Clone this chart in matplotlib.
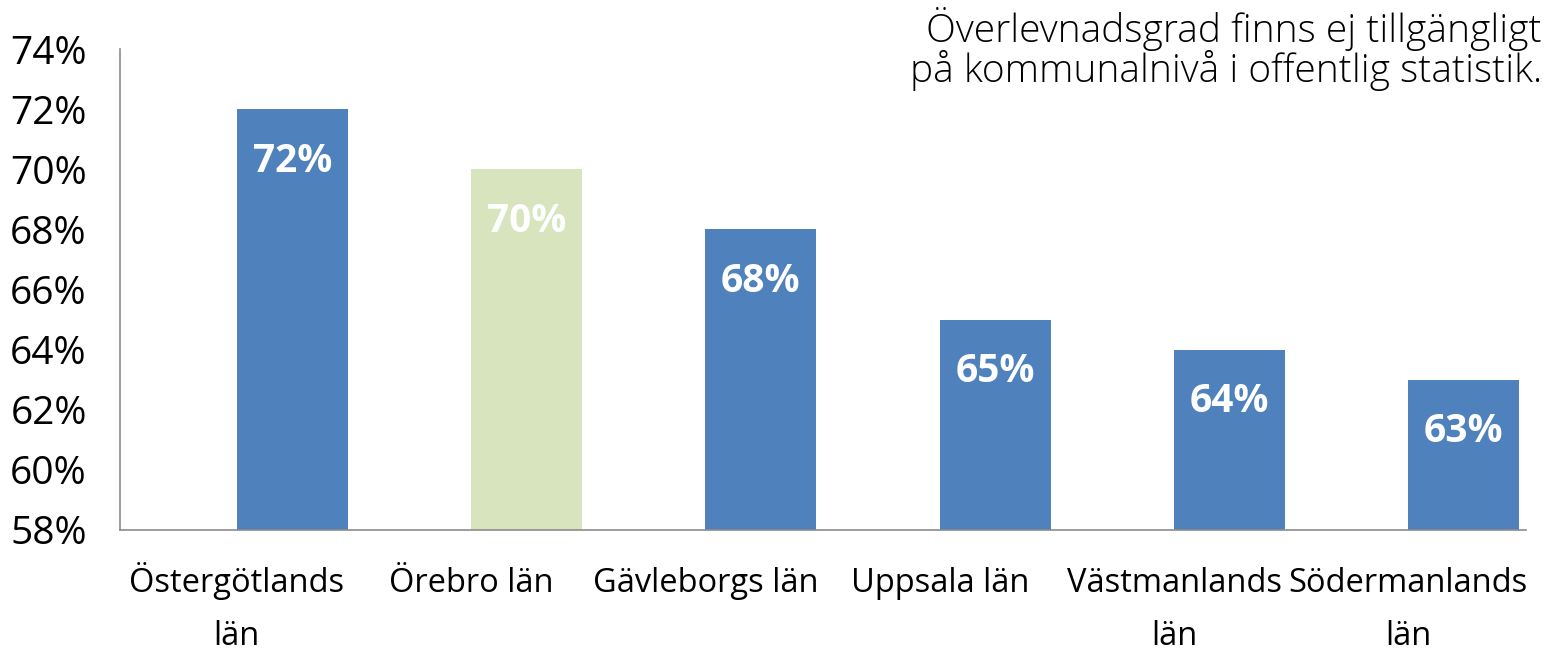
import numpy as np
import matplotlib
matplotlib.use('Agg')
import matplotlib.pyplot as plt

# data
categories = ['Östergötlands\nlän', 'Örebro län', 'Gävleborgs län', 'Uppsala län',
              'Västmanlands\nlän', 'Södermanlands\nlän']
values = [72, 70, 68, 65, 64, 63]
labels = ['72%', '70%', '68%', '65%', '64%', '63%']
colors = ['#4F81BD', '#D7E4BD', '#4F81BD', '#4F81BD', '#4F81BD', '#4F81BD']
yticks = [58, 60, 62, 64, 66, 68, 70, 72, 74]
note = 'Överlevnadsgrad finns ej tillgängligt\npå kommunalnivå i offentlig statistik.'

plt.rcParams['font.family'] = ['Open Sans', 'DejaVu Sans']

fig = plt.figure(figsize=(15.54, 6.53), dpi=100)
ax = fig.add_axes([120 / 1554, 1 - 530 / 653, (1526 - 120) / 1554, (530 - 49) / 653])

w = 0.474
x = np.arange(len(categories))
bars = ax.bar(x, [v - 58 for v in values], bottom=58, width=w, color=colors)

for b, lab in zip(bars, labels):
    ax.annotate(lab, (b.get_x() + b.get_width() / 2, b.get_y() + b.get_height()),
                xytext=(0, -45), textcoords='offset points', ha='center', va='baseline',
                color='white', fontsize=28, fontweight='bold')

ax.set_ylim(58, 74)
ax.set_xlim(-0.735, 5.265)
ax.set_yticks(yticks)
ax.set_yticklabels([f'{t}%' for t in yticks], fontsize=28)
# category labels sit at the left edge of each bar, like the original;
# give every label two lines so the first lines line up
tick_texts = [c if '\n' in c else c + '\n ' for c in categories]
ax.set_xticks(x - w / 2)
ax.set_xticklabels(tick_texts, fontsize=23.5, linespacing=1.8, va='baseline')
ax.tick_params(axis='y', length=0, pad=24)
ax.tick_params(axis='x', length=0, pad=83)

for s in ['top', 'right']:
    ax.spines[s].set_visible(False)
for s in ['left', 'bottom']:
    ax.spines[s].set_color('#8c8c8c')
    ax.spines[s].set_linewidth(1.2)

fig.text(1542 / 1554, 1 - 49 / 653, note, ha='right', va='center', fontsize=28,
         family=['Open Sans', 'DejaVu Sans'], fontweight='light', linespacing=0.98)

fig.savefig('out.png', dpi=100)
